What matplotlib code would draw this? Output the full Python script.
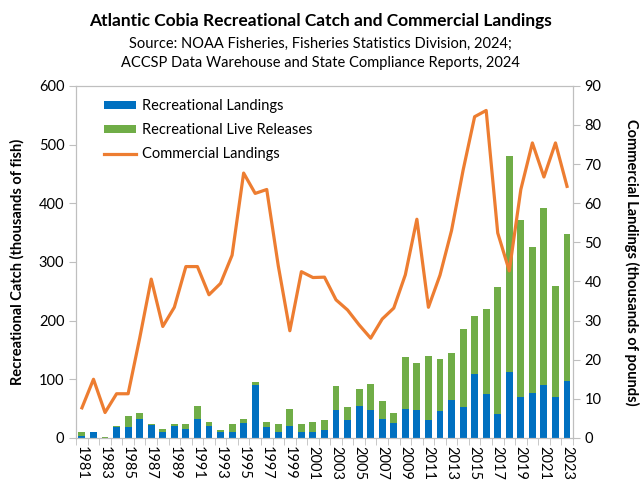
# Atlantic cobia recreational catch (bars) and commercial landings (line)

import numpy as np
import matplotlib.pyplot as plt

plt.rcParams['font.family'] = ['Lato', 'DejaVu Sans']

# Data
years = list(range(1981, 2024))

# recreational landings, thousands of fish
rec_landings = [3, 11, 0.5, 18, 18, 33, 22, 10, 21, 16,
                33, 21, 11, 11, 25, 91, 18, 10, 21, 11,
                10, 13, 48, 30, 55, 48, 33, 26, 50, 48,
                31, 46, 65, 52, 109, 75, 40, 113, 69, 77,
                90, 69, 97]

# recreational live releases, thousands of fish
rec_releases = [8, 0, 1.5, 2, 20, 9, 2, 6, 3, 7,
                22, 7, 3, 13, 8, 5, 10, 13, 29, 12,
                18, 17, 41, 22, 29, 44, 30, 17, 88, 80,
                109, 89, 80, 134, 99, 145, 217, 368, 302, 248,
                301, 190, 250]

# commercial landings, thousands of pounds
comm_landings = [7.7, 15, 6.5, 11.3, 11.3, 25.5, 40.6, 28.5, 33.4, 43.8,
                 43.8, 36.6, 39.5, 46.7, 67.7, 62.5, 63.5, 44, 27.4, 42.5,
                 41, 41.1, 35.3, 32.7, 28.9, 25.5, 30.4, 33.2, 41.7, 55.9,
                 33.4, 41.6, 53, 68.4, 82.1, 83.7, 52.4, 42.7, 63.5, 75.4,
                 66.7, 75.4, 64.3]

blue = '#0070C0'
green = '#70AD47'
orange = '#ED7D31'
grey = '#BFBFBF'

x = np.arange(len(years))

fig = plt.figure(figsize=(6.4, 4.96), dpi=100)
ax = fig.add_axes([0.119, 0.117, 0.776, 0.71])

b1 = ax.bar(x, rec_landings, width=0.6, color=blue, label='Recreational Landings')
b2 = ax.bar(x, rec_releases, width=0.6, bottom=rec_landings, color=green,
            label='Recreational Live Releases')

ax.set_xlim(-0.5, len(years) - 0.5)
ax.set_ylim(0, 600)
ax.set_yticks(range(0, 601, 100))

# year labels every other year, tick marks on category boundaries
ax.set_xticks(x[::2])
ax.set_xticklabels([str(y) for y in years[::2]], rotation=-90)
ax.set_xticks(np.arange(-0.5, len(years), 1), minor=True)
ax.tick_params(axis='x', which='major', length=0, pad=6)
ax.tick_params(axis='x', which='minor', length=5, color=grey)
ax.tick_params(axis='y', length=5, color=grey, labelsize=10.5)
ax.tick_params(axis='x', labelsize=10.5)

ax.set_ylabel('Recreational Catch (thousands of fish)', fontsize=10.5,
              fontweight='bold', labelpad=10)

# right axis for the commercial line
ax2 = ax.twinx()
ln, = ax2.plot(x, comm_landings, color=orange, lw=2.3, label='Commercial Landings')
ax2.set_ylim(0, 90)
ax2.set_yticks(range(0, 91, 10))
ax2.tick_params(axis='y', length=5, color=grey, labelsize=10.5)
ax2.set_ylabel('Commercial Landings (thousands of pounds)', fontsize=10.5,
               fontweight='bold', rotation=-90, labelpad=27)

for a in (ax, ax2):
    for s in a.spines.values():
        s.set_color(grey)

ax2.legend(handles=[b1, b2, ln], loc='upper left', frameon=False,
           fontsize=10.5, bbox_to_anchor=(0.03, 1.0), handlelength=2.2,
           handleheight=0.5, labelspacing=0.7, handletextpad=0.4)

fig.text(0.5, 0.958, 'Atlantic Cobia Recreational Catch and Commercial Landings',
         ha='center', va='center', fontsize=12.5, fontweight='bold')
fig.text(0.5, 0.911, 'Source: NOAA Fisheries, Fisheries Statistics Division, 2024;',
         ha='center', va='center', fontsize=10.5)
fig.text(0.5, 0.873, 'ACCSP Data Warehouse and State Compliance Reports, 2024',
         ha='center', va='center', fontsize=10.5)

fig.savefig('out.png', dpi=100)
